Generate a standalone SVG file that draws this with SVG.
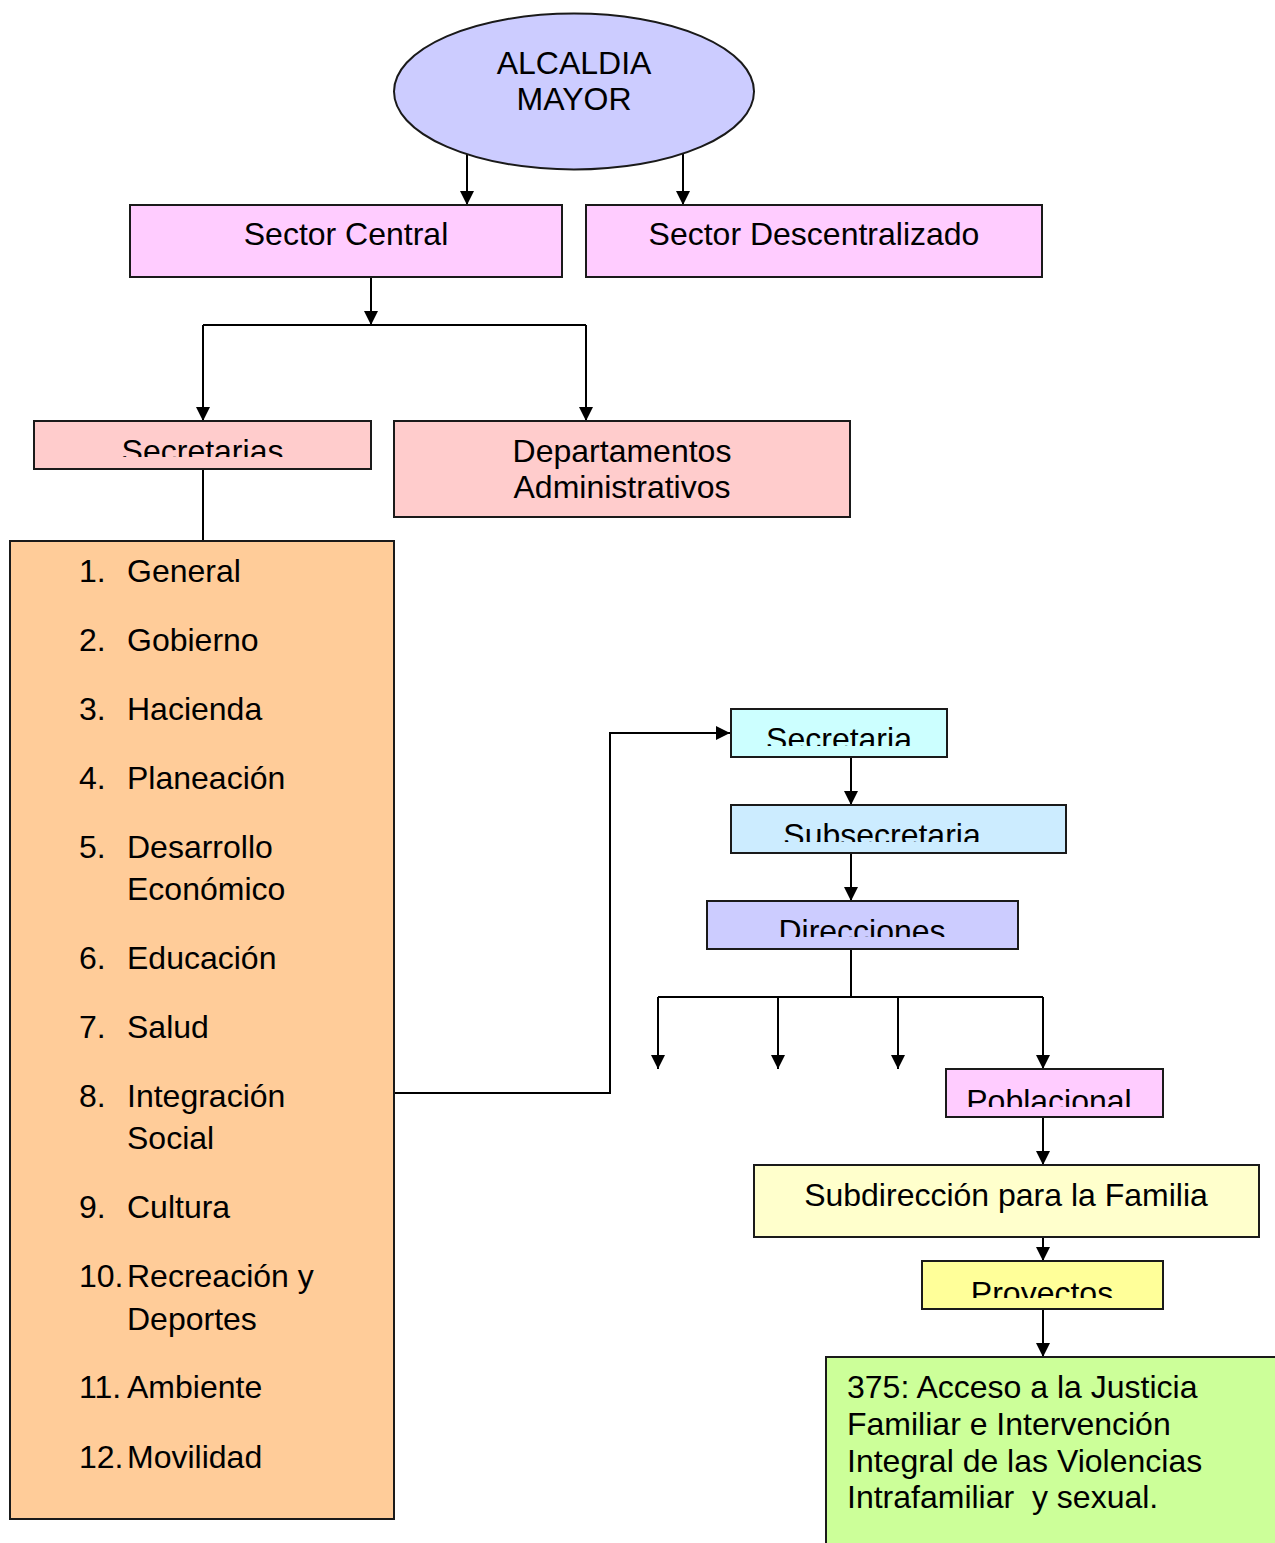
<svg xmlns="http://www.w3.org/2000/svg" width="1275" height="1543" viewBox="0 0 1275 1543">
<style>
  .box { stroke: #1a1a1a; stroke-width: 2; }
  .t { font-family: "Liberation Sans", Arial, sans-serif; font-size: 32px; fill: #000; }
  .c { text-anchor: middle; }
  .ln { fill: none; stroke: #000; stroke-width: 2; }
</style>
<defs>
  <marker id="ah" markerUnits="userSpaceOnUse" markerWidth="14" markerHeight="16" viewBox="0 0 14 16" refX="14" refY="8" orient="auto">
    <path d="M0,1 L14,8 L0,15 Z" fill="#000"/>
  </marker>
  <clipPath id="cpSecs"><rect x="34" y="421" width="337" height="36"/></clipPath>
  <clipPath id="cpSec"><rect x="731" y="709" width="216" height="37"/></clipPath>
  <clipPath id="cpSub"><rect x="731" y="805" width="335" height="37"/></clipPath>
  <clipPath id="cpDir"><rect x="707" y="901" width="311" height="36"/></clipPath>
  <clipPath id="cpPob"><rect x="946" y="1069" width="217" height="38"/></clipPath>
  <clipPath id="cpPro"><rect x="922" y="1261" width="241" height="37"/></clipPath>
</defs>
<rect width="1275" height="1543" fill="#fff"/>

<g id="connectors">
  <line class="ln" x1="467" y1="154" x2="467" y2="205" marker-end="url(#ah)"/>
  <line class="ln" x1="683" y1="154" x2="683" y2="205" marker-end="url(#ah)"/>
  <line class="ln" x1="371" y1="277" x2="371" y2="325" marker-end="url(#ah)"/>
  <polyline class="ln" points="586,325 203,325"/>
  <line class="ln" x1="203" y1="325" x2="203" y2="421" marker-end="url(#ah)"/>
  <line class="ln" x1="586" y1="325" x2="586" y2="421" marker-end="url(#ah)"/>
  <line class="ln" x1="203" y1="469" x2="203" y2="541"/>
  <polyline class="ln" points="394,1093 610,1093 610,733 730,733" marker-end="url(#ah)"/>
  <line class="ln" x1="851" y1="757" x2="851" y2="805" marker-end="url(#ah)"/>
  <line class="ln" x1="851" y1="853" x2="851" y2="901" marker-end="url(#ah)"/>
  <line class="ln" x1="851" y1="949" x2="851" y2="997"/>
  <line class="ln" x1="658" y1="997" x2="1043" y2="997"/>
  <line class="ln" x1="658" y1="997" x2="658" y2="1069" marker-end="url(#ah)"/>
  <line class="ln" x1="778" y1="997" x2="778" y2="1069" marker-end="url(#ah)"/>
  <line class="ln" x1="898" y1="997" x2="898" y2="1069" marker-end="url(#ah)"/>
  <line class="ln" x1="1043" y1="997" x2="1043" y2="1069" marker-end="url(#ah)"/>
  <line class="ln" x1="1043" y1="1117" x2="1043" y2="1165" marker-end="url(#ah)"/>
  <line class="ln" x1="1043" y1="1237" x2="1043" y2="1261" marker-end="url(#ah)"/>
  <line class="ln" x1="1043" y1="1309" x2="1043" y2="1357" marker-end="url(#ah)"/>
</g>

<g id="alcaldia">
  <ellipse class="box" cx="574" cy="91.5" rx="180" ry="78" fill="#CCCCFF"/>
  <text class="t c" x="574" y="74">ALCALDIA</text>
  <text class="t c" x="574" y="110">MAYOR</text>
</g>

<g id="sector-central">
  <rect class="box" x="130" y="205" width="432" height="72" fill="#FFCCFF"/>
  <text class="t c" x="346" y="245">Sector Central</text>
</g>

<g id="sector-descentralizado">
  <rect class="box" x="586" y="205" width="456" height="72" fill="#FFCCFF"/>
  <text class="t c" x="814" y="245">Sector Descentralizado</text>
</g>

<g id="secretarias">
  <rect class="box" x="34" y="421" width="337" height="48" fill="#FFCCCC"/>
  <text class="t c" x="202.5" y="461.5" clip-path="url(#cpSecs)">Secretarias</text>
</g>

<g id="departamentos">
  <rect class="box" x="394" y="421" width="456" height="96" fill="#FFCCCC"/>
  <text class="t c" x="622" y="462">Departamentos</text>
  <text class="t c" x="622" y="498">Administrativos</text>
</g>

<g id="lista-secretarias">
  <rect class="box" x="10" y="541" width="384" height="978" fill="#FFCC99"/>
  <text class="t" x="79" y="582">1.</text><text class="t" x="127" y="582">General</text>
  <text class="t" x="79" y="651">2.</text><text class="t" x="127" y="651">Gobierno</text>
  <text class="t" x="79" y="720">3.</text><text class="t" x="127" y="720">Hacienda</text>
  <text class="t" x="79" y="789">4.</text><text class="t" x="127" y="789">Planeación</text>
  <text class="t" x="79" y="858">5.</text><text class="t" x="127" y="858">Desarrollo</text>
  <text class="t" x="127" y="900">Económico</text>
  <text class="t" x="79" y="969">6.</text><text class="t" x="127" y="969">Educación</text>
  <text class="t" x="79" y="1038">7.</text><text class="t" x="127" y="1038">Salud</text>
  <text class="t" x="79" y="1107">8.</text><text class="t" x="127" y="1107">Integración</text>
  <text class="t" x="127" y="1149">Social</text>
  <text class="t" x="79" y="1218">9.</text><text class="t" x="127" y="1218">Cultura</text>
  <text class="t" x="79" y="1287">10.</text><text class="t" x="127" y="1287">Recreación y</text>
  <text class="t" x="127" y="1330">Deportes</text>
  <text class="t" x="79" y="1398">11.</text><text class="t" x="127" y="1398">Ambiente</text>
  <text class="t" x="79" y="1468">12.</text><text class="t" x="127" y="1468">Movilidad</text>
</g>

<g id="secretaria">
  <rect class="box" x="731" y="709" width="216" height="48" fill="#CCFFFF"/>
  <text class="t c" x="839" y="750" clip-path="url(#cpSec)">Secretaria</text>
</g>

<g id="subsecretaria">
  <rect class="box" x="731" y="805" width="335" height="48" fill="#CCECFF"/>
  <text class="t c" x="882" y="846" clip-path="url(#cpSub)">Subsecretaria</text>
</g>

<g id="direcciones">
  <rect class="box" x="707" y="901" width="311" height="48" fill="#CCCCFF"/>
  <text class="t c" x="862" y="942" clip-path="url(#cpDir)">Direcciones</text>
</g>

<g id="poblacional">
  <rect class="box" x="946" y="1069" width="217" height="48" fill="#FFCCFF"/>
  <text class="t c" x="1049" y="1112" clip-path="url(#cpPob)">Poblacional</text>
</g>

<g id="subdireccion">
  <rect class="box" x="754" y="1165" width="505" height="72" fill="#FFFFCC"/>
  <text class="t c" x="1006" y="1206">Subdirección para la Familia</text>
</g>

<g id="proyectos">
  <rect class="box" x="922" y="1261" width="241" height="48" fill="#FFFF99"/>
  <text class="t c" x="1042" y="1304" clip-path="url(#cpPro)">Proyectos</text>
</g>

<g id="proyecto-375">
  <rect class="box" x="826" y="1357" width="460" height="200" fill="#CCFF99"/>
  <text class="t" x="847" y="1398">375: Acceso a la Justicia</text>
  <text class="t" x="847" y="1435">Familiar e Intervención</text>
  <text class="t" x="847" y="1472">Integral de las Violencias</text>
  <text class="t" x="847" y="1508" xml:space="preserve">Intrafamiliar  y sexual.</text>
</g>
</svg>
